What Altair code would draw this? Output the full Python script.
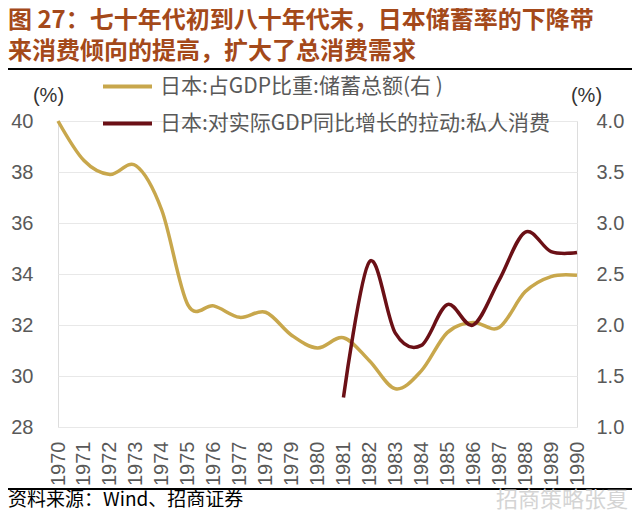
import altair as alt
import pandas as pd

# ---- data ----
years = list(range(1970, 1991))
savings = [40.0, 38.45, 37.9, 38.25, 36.5, 32.8, 32.75, 32.3, 32.5, 31.6, 31.1,
           31.5, 30.6, 29.5, 30.2, 31.7, 32.1, 31.9, 33.3, 33.9, 33.95]
cons_years = list(range(1981, 1991))
consumption = [1.29, 2.62, 1.92, 1.80, 2.20, 2.00, 2.44, 2.91, 2.72, 2.71]
left_ticks = [28, 30, 32, 34, 36, 38, 40]
right_ticks = [1.0, 1.5, 2.0, 2.5, 3.0, 3.5, 4.0]
series_names = ["日本:占GDP比重:储蓄总额(右 )", "日本:对实际GDP同比增长的拉动:私人消费"]
series_colors = ["#C8A74C", "#6B1016"]
title_lines = ["图 27：七十年代初到八十年代末，日本储蓄率的下降带",
               "来消费倾向的提高，扩大了总消费需求"]
source_text = "资料来源：Wind、招商证券"
watermark_text = "招商策略张夏"

LAB = "#595959"
NUMFONT = "Liberation Sans"
CJK = "Noto Sans CJK SC"

df_s = pd.DataFrame({"year": years, "value": savings, "series": series_names[0]})
df_c = pd.DataFrame({"year": cons_years, "value": consumption, "series": series_names[1]})

color = alt.Color(
    "series:N",
    scale=alt.Scale(domain=series_names, range=series_colors),
    legend=alt.Legend(
        title=None, orient="none", legendX=43, legendY=-61, direction="vertical",
        symbolType="stroke", symbolSize=2401, symbolStrokeWidth=4,
        labelFontSize=21, labelColor=LAB, labelFont=CJK, rowPadding=-6,
        labelOffset=6, labelLimit=0,
    ),
)

x = alt.X(
    "year:Q",
    scale=alt.Scale(domain=[1970, 1990], nice=False, zero=False),
    axis=alt.Axis(
        values=years, format="d", labelAngle=270, labelAlign="right",
        labelBaseline="middle", labelPadding=14, ticks=False, domain=False,
        grid=False, labelFontSize=20, labelColor=LAB, labelFont=NUMFONT,
        title=None, labelOverlap=False,
    ),
)

gold = alt.Chart(df_s).mark_line(interpolate="cardinal", strokeWidth=3.5).encode(
    x=x,
    y=alt.Y(
        "value:Q",
        scale=alt.Scale(domain=[28, 40], nice=False, zero=False),
        axis=alt.Axis(
            values=left_ticks, orient="left", ticks=False, domain=False,
            grid=True, gridColor="#e8e8e8", gridWidth=1, labelPadding=25,
            labelFontSize=20, labelColor=LAB, labelFont=NUMFONT,
            title="(%)", titleAngle=0, titleX=-10, titleY=-26,
            titleAlign="center", titleBaseline="middle",
            titleFontWeight="normal", titleFontSize=20, titleColor="#333333",
            titleFont=NUMFONT,
        ),
    ),
    color=color,
)

red = alt.Chart(df_c).mark_line(interpolate="cardinal", strokeWidth=3.5).encode(
    x=x,
    y=alt.Y(
        "value:Q",
        scale=alt.Scale(domain=[1, 4], nice=False, zero=False),
        axis=alt.Axis(
            values=right_ticks, format=".1f", orient="right", ticks=False,
            domain=False, grid=False, labelPadding=19, labelFontSize=20,
            labelColor=LAB, labelFont=NUMFONT,
            title="(%)", titleAngle=0, titleX=9, titleY=-26,
            titleAlign="center", titleBaseline="middle",
            titleFontWeight="normal", titleFontSize=20, titleColor="#333333",
            titleFont=NUMFONT,
        ),
    ),
    color=color,
)

one = pd.DataFrame({"k": [0]})

title_mark = alt.Chart(pd.DataFrame({"t": ["\n".join(title_lines)]})).mark_text(
    align="left", baseline="top", font=CJK, fontSize=24, fontWeight="bold",
    color="#A4491A", lineBreak="\n", lineHeight=31,
).encode(text="t:N", x=alt.value(-50), y=alt.value(-112))

top_rule = alt.Chart(one).mark_rule(color="black", strokeWidth=2).encode(
    x=alt.value(-50), x2=alt.value(574), y=alt.value(-52)
)
bottom_rule = alt.Chart(one).mark_rule(color="black", strokeWidth=2).encode(
    x=alt.value(-50), x2=alt.value(574), y=alt.value(368)
)

src = alt.Chart(pd.DataFrame({"t": [source_text]})).mark_text(
    align="left", baseline="middle", font=CJK, fontSize=19, color="black",
).encode(text="t:N", x=alt.value(-50), y=alt.value(379))

wm = alt.Chart(pd.DataFrame({"t": [watermark_text]})).mark_text(
    align="right", baseline="middle", font=CJK, fontSize=22, color="#d4d4d4",
).encode(text="t:N", x=alt.value(570), y=alt.value(379))

chart = (
    alt.layer(gold, red, title_mark, top_rule, bottom_rule, src, wm)
    .resolve_scale(y="independent")
    .properties(
        width=519, height=306,
        autosize=alt.AutoSizeParams(type="none"),
        padding={"left": 50, "top": 113, "right": 55, "bottom": 87},
    )
    .configure_view(stroke=None)
    .configure(background="white")
)

chart.save("out.html", embed_options={"renderer": "svg", "actions": False})
